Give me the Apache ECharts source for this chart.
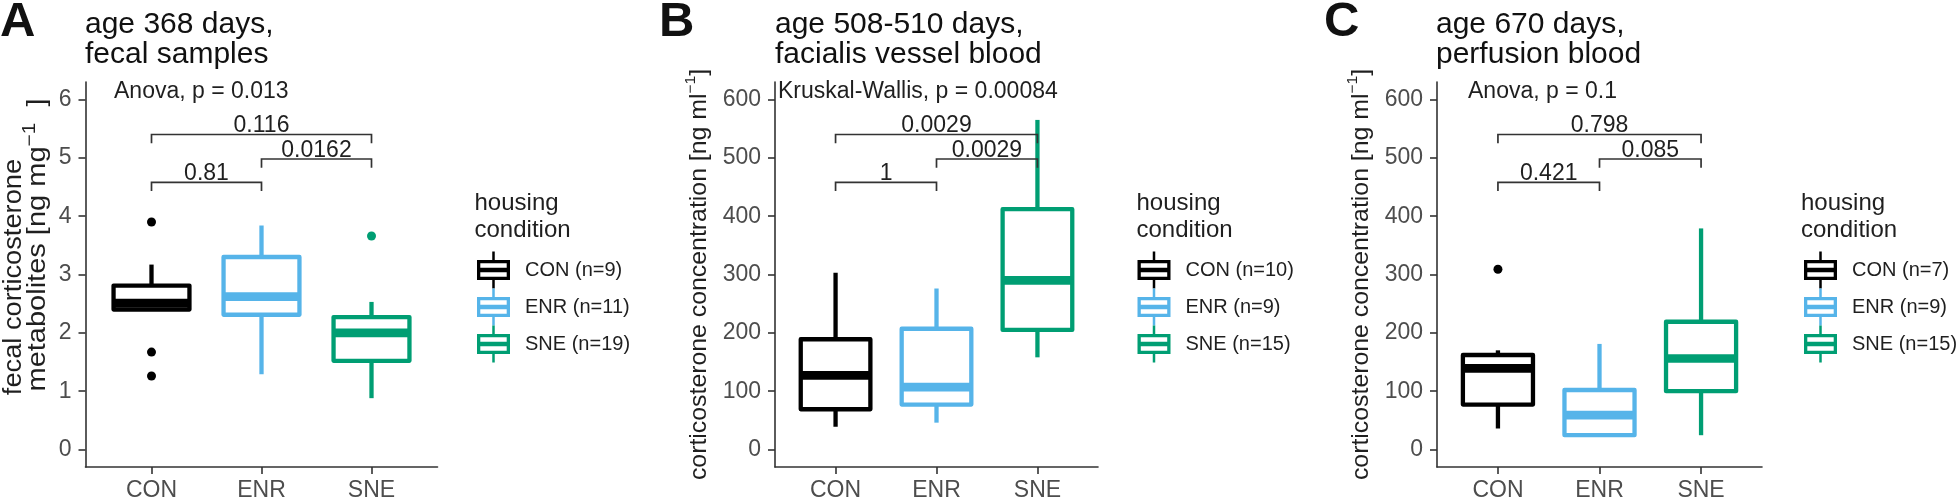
<!DOCTYPE html>
<html>
<head>
<meta charset="utf-8">
<script src="https://cdn.jsdelivr.net/npm/echarts@6/dist/echarts.min.js"></script>
<style>
html,body{margin:0;padding:0;background:#fff;}
#chart{width:1958px;height:502px;}
</style>
</head>
<body>
<div id="chart"></div>
<script>
// ---------------- data ----------------
const categories = ['CON', 'ENR', 'SNE'];

// box statistics per category: [lower whisker, Q1, median, Q3, upper whisker]
const boxA = [
  [2.40, 2.40, 2.51, 2.81, 3.17],
  [1.29, 2.31, 2.62, 3.30, 3.84],
  [0.88, 1.52, 2.00, 2.27, 2.53]
];
const boxB = [
  [39, 69, 127, 189, 303],
  [46, 77, 107, 207, 276],
  [158, 205, 290, 412, 565]
];
const boxC = [
  [36, 77, 139, 162, 170],
  [24.5, 24.5, 59, 102, 181],
  [24.5, 100, 156, 219, 379]
];

// outliers per panel and category
const outliersA = [[3.90, 1.67, 1.26], [], [3.66]];
const outliersB = [[], [], []];
const outliersC = [[309], [], []];

// comparison brackets: [from category, to category, height]
const bracketsA = [[1, 3, 5.40], [2, 3, 4.98], [1, 2, 4.58]];
const bracketLabelsA = ['0.116', '0.0162', '0.81'];
const bracketsB = [[1, 3, 540], [2, 3, 498], [1, 2, 458]];
const bracketLabelsB = ['0.0029', '0.0029', '1'];
const bracketsC = [[1, 3, 540], [2, 3, 498], [1, 2, 458]];
const bracketLabelsC = ['0.798', '0.085', '0.421'];

// legend labels
const legendA = ['CON (n=9)', 'ENR (n=11)', 'SNE (n=19)'];
const legendB = ['CON (n=10)', 'ENR (n=9)', 'SNE (n=15)'];
const legendC = ['CON (n=7)', 'ENR (n=9)', 'SNE (n=15)'];

// tick labels
const yTicksA = [0, 1, 2, 3, 4, 5, 6];
const yTicksBC = [0, 100, 200, 300, 400, 500, 600];
const xTicks = [1, 2, 3];

// texts
const panelLetters = ['A', 'B', 'C'];
const panelTitles = ['age 368 days,\nfecal samples', 'age 508-510 days,\nfacialis vessel blood', 'age 670 days,\nperfusion blood'];
const testLabels = ['Anova, p = 0.013', 'Kruskal-Wallis, p = 0.00084', 'Anova, p = 0.1'];

// ---------------- style ----------------
const FONT = '"Liberation Sans", Arial, Helvetica, sans-serif';
const colors = ['#000000', '#56B4E9', '#009E73'];
const BOX_W = 0.69;
const LW = 4.3;
const MW = 8.6;
const AXIS_COLOR = '#333333';
const TICK_TEXT = '#4d4d4d';
const TEXT = '#1f1f1f';

const panels = [
  {left: 85.5, width: 352, yMin: -0.3, yMax: 6.3, ticks: yTicksA, box: boxA, out: outliersA, br: bracketsA, brl: bracketLabelsA, tip: 0.15, legend: legendA, legLeft: 477, legTitle: 474.5, titleX: 85, letterX: 0, testX: 114},
  {left: 775, width: 323, yMin: -30, yMax: 630, ticks: yTicksBC, box: boxB, out: outliersB, br: bracketsB, brl: bracketLabelsB, tip: 15, legend: legendB, legLeft: 1137.5, legTitle: 1136.5, titleX: 775, letterX: 659, testX: 778},
  {left: 1437, width: 325, yMin: -30, yMax: 630, ticks: yTicksBC, box: boxC, out: outliersC, br: bracketsC, brl: bracketLabelsC, tip: 15, legend: legendC, legLeft: 1804, legTitle: 1801, titleX: 1436, letterX: 1324, testX: 1468}
];

const KEY_PATH = 'path://M15.25,0L17.75,0L17.75,8.5L15.25,8.5Z' +
  'M0,8.5L33,8.5L33,28.5L0,28.5Z' +
  'M3.3,11.8L3.3,16.3L29.7,16.3L29.7,11.8Z' +
  'M3.3,20.7L3.3,25.2L29.7,25.2L29.7,20.7Z' +
  'M15.25,28.5L17.75,28.5L17.75,37L15.25,37Z';

function renderBox(params, api) {
  const x = api.value(0);
  const lo = api.coord([x, api.value(1)]);
  const q1 = api.coord([x, api.value(2)]);
  const md = api.coord([x, api.value(3)]);
  const q3 = api.coord([x, api.value(4)]);
  const hi = api.coord([x, api.value(5)]);
  const half = api.size([BOX_W, 0])[0] / 2;
  const color = api.visual('color');
  const cx = md[0];
  return {
    type: 'group',
    children: [
      {type: 'line', shape: {x1: cx, y1: hi[1], x2: cx, y2: q3[1]}, style: {stroke: color, lineWidth: LW}},
      {type: 'line', shape: {x1: cx, y1: q1[1], x2: cx, y2: lo[1]}, style: {stroke: color, lineWidth: LW}},
      {type: 'rect', shape: {x: cx - half, y: q3[1], width: 2 * half, height: q1[1] - q3[1]},
        style: {fill: '#ffffff', stroke: color, lineWidth: LW, lineJoin: 'round'}},
      {type: 'line', shape: {x1: cx - half, y1: md[1], x2: cx + half, y2: md[1]}, style: {stroke: color, lineWidth: MW}}
    ]
  };
}

function makeBracketRenderer(labels, tip) {
  return function (params, api) {
    const x1 = api.value(0), x2 = api.value(1), y = api.value(2);
    const p1 = api.coord([x1, y]);
    const p2 = api.coord([x2, y]);
    const pt = api.coord([x1, y - tip]);
    return {
      type: 'group',
      children: [
        {type: 'polyline', shape: {points: [[p1[0], pt[1]], [p1[0], p1[1]], [p2[0], p2[1]], [p2[0], pt[1]]]},
          style: {stroke: '#333333', lineWidth: 1.7, fill: null}},
        {type: 'text', x: (p1[0] + p2[0]) / 2, y: p1[1] + 3,
          style: {text: labels[params.dataIndex], fill: TEXT, fontSize: 23, fontFamily: FONT, align: 'center', verticalAlign: 'bottom'}}
      ]
    };
  };
}

const grid = [], xAxis = [], yAxis = [], series = [], legend = [], title = [], graphic = [];

panels.forEach(function (p, i) {
  grid.push({left: p.left, top: 82, width: p.width, height: 385});
  xAxis.push({
    type: 'value', gridIndex: i, min: 0.4, max: 3.6,
    axisLine: {show: true, onZero: false, lineStyle: {color: AXIS_COLOR, width: 1.6}},
    axisTick: {show: true, length: 7, customValues: xTicks, lineStyle: {color: AXIS_COLOR, width: 1.6}},
    axisLabel: {customValues: xTicks, formatter: function (v) { return categories[Math.round(v) - 1]; },
      fontSize: 23, fontFamily: FONT, color: TICK_TEXT, margin: 12},
    splitLine: {show: false}
  });
  yAxis.push({
    type: 'value', gridIndex: i, min: p.yMin, max: p.yMax,
    axisLine: {show: true, onZero: false, lineStyle: {color: AXIS_COLOR, width: 1.6}},
    axisTick: {show: true, length: 7, customValues: p.ticks, lineStyle: {color: AXIS_COLOR, width: 1.6}},
    axisLabel: {customValues: p.ticks, fontSize: 23, fontFamily: FONT, color: TICK_TEXT, margin: 14},
    splitLine: {show: false}
  });
  categories.forEach(function (c, g) {
    series.push({
      type: 'custom', name: p.legend[g], xAxisIndex: i, yAxisIndex: i,
      itemStyle: {color: colors[g]},
      data: [[g + 1].concat(p.box[g])],
      encode: {x: 0, y: [1, 2, 3, 4, 5]},
      renderItem: renderBox, silent: true, animation: false
    });
    if (p.out[g].length) {
      series.push({
        type: 'scatter', name: p.legend[g], xAxisIndex: i, yAxisIndex: i,
        symbolSize: 9, itemStyle: {color: colors[g], opacity: 1},
        data: p.out[g].map(function (v) { return [g + 1, v]; }),
        silent: true, animation: false
      });
    }
  });
  series.push({
    type: 'custom', xAxisIndex: i, yAxisIndex: i,
    data: p.br, encode: {x: [0, 1], y: 2},
    renderItem: makeBracketRenderer(p.brl, p.tip), silent: true, animation: false
  });
  legend.push({
    orient: 'vertical', left: p.legLeft, top: 251.5, padding: 0,
    itemWidth: 33, itemHeight: 37, itemGap: 0, selectedMode: false,
    data: p.legend.map(function (n) { return {name: n, icon: KEY_PATH}; }),
    itemStyle: {borderWidth: 0},
    textStyle: {fontSize: 20, fontFamily: FONT, color: TEXT, padding: [0, 0, 0, 10]}
  });
  title.push({
    text: panelTitles[i], left: p.titleX, top: 10, padding: 0,
    textStyle: {fontSize: 30, lineHeight: 30, fontWeight: 'normal', fontFamily: FONT, color: '#111111'}
  });
  title.push({
    text: panelLetters[i], left: p.letterX, top: -2, padding: 0,
    textStyle: {fontSize: 49, lineHeight: 49, fontWeight: 'bold', fontFamily: FONT, color: '#111111'}
  });
  graphic.push({
    type: 'text', left: p.legTitle, top: 189.5,
    style: {text: 'housing\ncondition', fontSize: 24, lineHeight: 27, fontFamily: FONT, fill: TEXT}
  });
  graphic.push({
    type: 'text', x: p.testX, y: 91.7,
    style: {text: testLabels[i], fontSize: 23, fontFamily: FONT, fill: TEXT, align: 'left', verticalAlign: 'middle'}
  });
});

// y-axis titles
graphic.push({
  type: 'text', x: 14, y: 277, rotation: Math.PI / 2, scaleX: 1.09,
  style: {text: 'fecal corticosterone', fontSize: 25, fontFamily: FONT, fill: TEXT, align: 'center', verticalAlign: 'middle'}
});
const supRichA = {
  n: {fontSize: 25, fontFamily: FONT, lineHeight: 33, fill: TEXT},
  s: {fontSize: 18, fontFamily: FONT, lineHeight: 17, verticalAlign: 'top', fill: TEXT}
};
graphic.push({
  type: 'text', x: 38, y: 245, rotation: Math.PI / 2, scaleX: 1.16,
  style: {text: '{n|metabolites [ng mg}{s|−1}{n|  ]}', rich: supRichA, align: 'center', verticalAlign: 'middle'}
});
const supRich = {
  n: {fontSize: 24, fontFamily: FONT, lineHeight: 32, fill: TEXT},
  s: {fontSize: 15, fontFamily: FONT, lineHeight: 15, verticalAlign: 'top', fill: TEXT}
};
[699, 1361].forEach(function (x) {
  graphic.push({
    type: 'text', x: x, y: 274.5, rotation: Math.PI / 2, scaleX: 1.035,
    style: {text: '{n|corticosterone concentration [ng ml}{s|−1}{n|]}', rich: supRich, align: 'center', verticalAlign: 'middle'}
  });
});

const chart = echarts.init(document.getElementById('chart'), null, {renderer: 'canvas'});
chart.setOption({
  animation: false,
  backgroundColor: '#ffffff',
  title: title,
  grid: grid,
  xAxis: xAxis,
  yAxis: yAxis,
  legend: legend,
  graphic: graphic,
  series: series
});
</script>
</body>
</html>
